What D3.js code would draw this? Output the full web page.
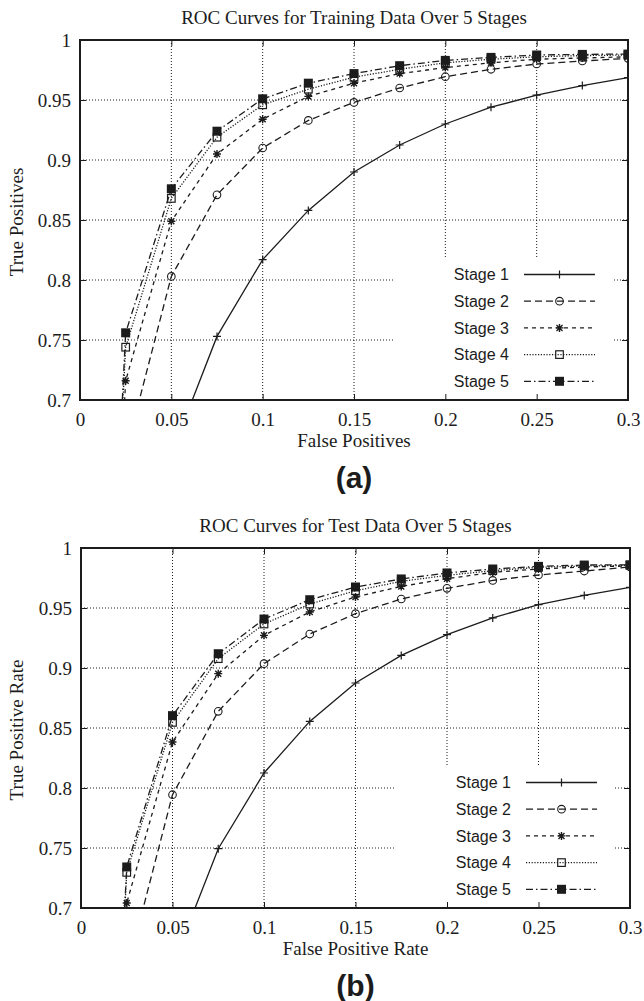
<!DOCTYPE html>
<html><head><meta charset="utf-8">
<script src="https://cdn.jsdelivr.net/npm/d3@7"></script>
<style>
html,body{margin:0;padding:0;background:#fff;}
svg{display:block;}
</style></head>
<body>
<script>
// ---------- data ----------
const fpr = [0, 0.025, 0.05, 0.075, 0.1, 0.125, 0.15, 0.175, 0.2, 0.225, 0.25, 0.275, 0.3];
const stageNames = ["Stage 1", "Stage 2", "Stage 3", "Stage 4", "Stage 5"];

const trainStage1 = [0, 0.55, 0.655, 0.753, 0.817, 0.858, 0.890, 0.9125, 0.930, 0.944, 0.954, 0.962, 0.9686];
const trainStage2 = [0, 0.656, 0.803, 0.871, 0.910, 0.933, 0.948, 0.960, 0.9694, 0.9756, 0.980, 0.9825, 0.9847];
const trainStage3 = [0, 0.716, 0.849, 0.905, 0.934, 0.953, 0.964, 0.972, 0.977, 0.981, 0.984, 0.985, 0.986];
const trainStage4 = [0, 0.744, 0.868, 0.919, 0.946, 0.959, 0.969, 0.9756, 0.981, 0.984, 0.986, 0.987, 0.9875];
const trainStage5 = [0, 0.756, 0.876, 0.924, 0.951, 0.964, 0.972, 0.9786, 0.983, 0.9855, 0.9875, 0.988, 0.9883];

const testStage1 = [0, 0.55, 0.652, 0.7494, 0.8125, 0.8555, 0.8875, 0.9105, 0.9278, 0.9417, 0.9528, 0.9605, 0.9672];
const testStage2 = [0, 0.647, 0.7944, 0.8639, 0.9036, 0.9283, 0.9453, 0.9575, 0.9664, 0.973, 0.9775, 0.9808, 0.9842];
const testStage3 = [0, 0.7042, 0.8383, 0.8953, 0.9272, 0.9467, 0.9592, 0.968, 0.9744, 0.9797, 0.9825, 0.9842, 0.985];
const testStage4 = [0, 0.7297, 0.8547, 0.9078, 0.9367, 0.9533, 0.9644, 0.9722, 0.9772, 0.9811, 0.9839, 0.985, 0.9856];
const testStage5 = [0, 0.7342, 0.8603, 0.9119, 0.9408, 0.9569, 0.9675, 0.9742, 0.9792, 0.9825, 0.9847, 0.9858, 0.986];

const xTicks = [0, 0.05, 0.1, 0.15, 0.2, 0.25, 0.3];
const yTicks = [0.7, 0.75, 0.8, 0.85, 0.9, 0.95, 1];

// ---------- styles ----------
const INK = "#1c1c1c";
const SERIF = "'Liberation Serif','Times New Roman',serif";
const SANS = "'Liberation Sans',Arial,sans-serif";
const dashes = [null, "7,4", "4,4", "1.2,1.6", "7,3,1.5,3"];
const markerTypes = ["plus", "circle", "star", "square", "fsquare"];

const svg = d3.select("body").append("svg").attr("width", 644).attr("height", 1001);

function drawMarker(g, type, x, y) {
  const s = 4;
  if (type === "plus") {
    g.append("path").attr("d", `M${x-s},${y}H${x+s}M${x},${y-s}V${y+s}`)
      .attr("stroke", INK).attr("stroke-width", 1.2).attr("fill", "none");
  } else if (type === "circle") {
    g.append("circle").attr("cx", x).attr("cy", y).attr("r", 3.8)
      .attr("stroke", INK).attr("stroke-width", 1.1).attr("fill", "none");
  } else if (type === "star") {
    const d = s * 0.75;
    g.append("path").attr("d", `M${x-s},${y}H${x+s}M${x},${y-s}V${y+s}M${x-d},${y-d}L${x+d},${y+d}M${x-d},${y+d}L${x+d},${y-d}`)
      .attr("stroke", INK).attr("stroke-width", 1.4).attr("fill", "none");
  } else if (type === "square") {
    g.append("rect").attr("x", x - 3.8).attr("y", y - 3.8).attr("width", 7.6).attr("height", 7.6)
      .attr("stroke", INK).attr("stroke-width", 1.2).attr("fill", "none");
  } else if (type === "fsquare") {
    g.append("rect").attr("x", x - 4.5).attr("y", y - 4.5).attr("width", 9).attr("height", 9)
      .attr("fill", INK);
  }
}

function panel(cfg) {
  const {left, right, top, bottom, series, title, xLabel, yLabel, tag, id} = cfg;
  const x = d3.scaleLinear().domain([0, 0.3]).range([left, right]);
  const y = d3.scaleLinear().domain([0.7, 1]).range([bottom, top]);
  const g = svg.append("g");

  // clip
  svg.append("clipPath").attr("id", "clip" + id).append("rect")
    .attr("x", left).attr("y", top).attr("width", right - left).attr("height", bottom - top);

  // grid
  const grid = g.append("g").attr("stroke", INK).attr("stroke-width", 1).attr("stroke-dasharray", "1,2");
  xTicks.slice(1, -1).forEach(t => grid.append("line").attr("x1", x(t)).attr("x2", x(t)).attr("y1", top).attr("y2", bottom));
  yTicks.slice(1, -1).forEach(t => grid.append("line").attr("x1", left).attr("x2", right).attr("y1", y(t)).attr("y2", y(t)));

  // legend background (hides grid)
  g.append("rect").attr("x", right - 235).attr("y", bottom - 142).attr("width", 220).attr("height", 141)
    .attr("fill", "#fff");

  // axes with inward ticks
  const axB = d3.axisBottom(x).tickValues(xTicks).tickSize(-6).tickFormat(d3.format("~g"));
  const axT = d3.axisTop(x).tickValues(xTicks).tickSize(-6).tickFormat("");
  const axL = d3.axisLeft(y).tickValues(yTicks).tickSize(-6).tickFormat(d3.format("~g"));
  const axR = d3.axisRight(y).tickValues(yTicks).tickSize(-6).tickFormat("");
  const styleAxis = sel => {
    sel.select(".domain").remove();
    sel.selectAll(".tick line").attr("stroke", INK).attr("stroke-width", 1);
    sel.selectAll(".tick text").attr("fill", INK).style("font-family", SERIF).style("font-size", "19px");
  };
  g.append("g").attr("transform", `translate(0,${bottom})`).call(axB).call(styleAxis)
    .selectAll(".tick text").attr("dy", null).attr("y", 26);
  g.append("g").attr("transform", `translate(0,${top})`).call(axT).call(styleAxis);
  g.append("g").attr("transform", `translate(${left},0)`).call(axL).call(styleAxis)
    .selectAll(".tick text").attr("x", -9).attr("dy", "0.33em");
  g.append("g").attr("transform", `translate(${right},0)`).call(axR).call(styleAxis);

  // curves
  const line = d3.line().x((d, i) => x(fpr[i])).y(d => y(d));
  const cg = g.append("g").attr("clip-path", `url(#clip${id})`);
  series.forEach((vals, k) => {
    cg.append("path").attr("d", line(vals)).attr("fill", "none").attr("stroke", INK)
      .attr("stroke-width", 1.3).attr("stroke-dasharray", dashes[k]);
  });
  series.forEach((vals, k) => {
    vals.forEach((v, i) => {
      if (v >= 0.7 && fpr[i] > 0) drawMarker(cg, markerTypes[k], x(fpr[i]), y(v));
    });
  });

  // frame
  g.append("rect").attr("x", left).attr("y", top).attr("width", right - left).attr("height", bottom - top)
    .attr("fill", "none").attr("stroke", INK).attr("stroke-width", 2);

  // legend
  const lg = g.append("g");
  stageNames.forEach((name, k) => {
    const ry = bottom - 125.5 + k * 26.7;
    lg.append("text").attr("x", right - 119).attr("y", ry).attr("dy", "0.36em")
      .attr("text-anchor", "end").style("font-family", SANS).style("font-size", "16px")
      .attr("fill", INK).text(name);
    lg.append("line").attr("x1", right - 104).attr("x2", right - 33).attr("y1", ry).attr("y2", ry)
      .attr("stroke", INK).attr("stroke-width", 1.3).attr("stroke-dasharray", dashes[k]);
    drawMarker(lg, markerTypes[k], right - 68.5, ry);
  });

  // titles / labels
  const cx = (left + right) / 2;
  g.append("text").attr("x", cx).attr("y", top - 16).attr("text-anchor", "middle")
    .style("font-family", SERIF).style("font-size", "19px").attr("fill", INK).text(title);
  g.append("text").attr("x", cx).attr("y", bottom + 47).attr("text-anchor", "middle")
    .style("font-family", SERIF).style("font-size", "19px").attr("fill", INK).text(xLabel);
  g.append("text").attr("transform", `translate(23,${(top + bottom) / 2 + 2}) rotate(-90)`)
    .attr("text-anchor", "middle")
    .style("font-family", SERIF).style("font-size", "19px").attr("fill", INK).text(yLabel);
  g.append("text").attr("x", cx).attr("y", bottom + 88).attr("text-anchor", "middle")
    .style("font-family", SANS).style("font-size", "30px").style("font-weight", "bold")
    .attr("fill", INK).text(tag);
}

panel({
  id: "a", left: 80, right: 628, top: 40, bottom: 400,
  series: [trainStage1, trainStage2, trainStage3, trainStage4, trainStage5],
  title: "ROC Curves for Training Data Over 5 Stages",
  xLabel: "False Positives", yLabel: "True Positives", tag: "(a)"
});
panel({
  id: "b", left: 81, right: 630, top: 548, bottom: 908,
  series: [testStage1, testStage2, testStage3, testStage4, testStage5],
  title: "ROC Curves for Test Data Over 5 Stages",
  xLabel: "False Positive Rate", yLabel: "True Positive Rate", tag: "(b)"
});
</script>
</body></html>
